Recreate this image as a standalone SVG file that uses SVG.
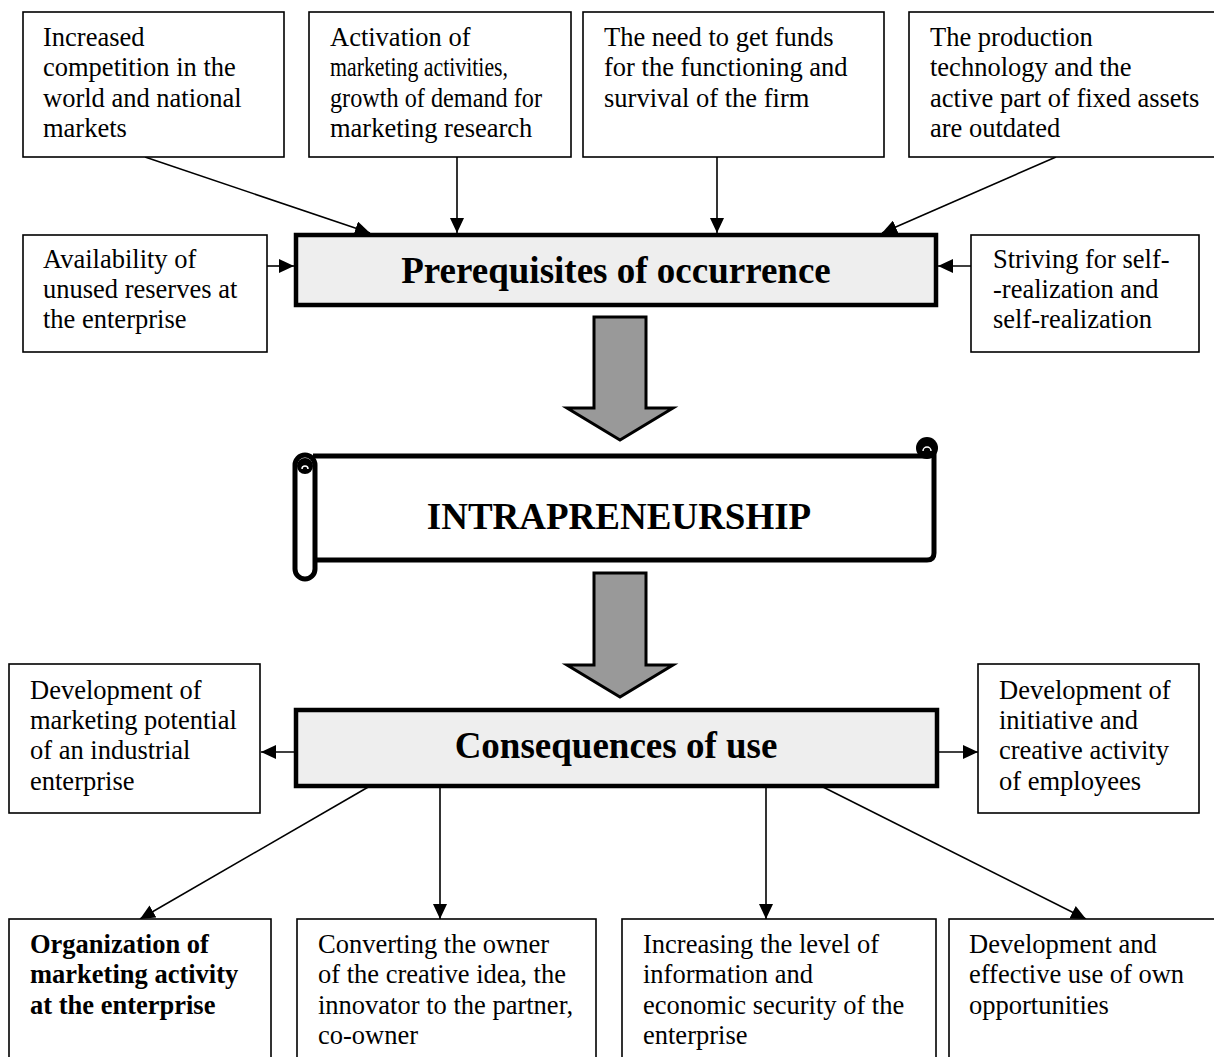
<svg xmlns="http://www.w3.org/2000/svg" width="1214" height="1057" viewBox="0 0 1214 1057">
<defs>
<style>
.box{fill:#fff;stroke:#000;stroke-width:1.6}
.main{fill:#eeeeee;stroke:#000;stroke-width:4.5}
.t{font-family:"Liberation Serif","Times New Roman",serif;font-size:26.5px;fill:#000}
.b{font-weight:bold}
.title{font-family:"Liberation Serif","Times New Roman",serif;font-size:37px;font-weight:bold;fill:#000;text-anchor:middle}
.con{stroke:#000;stroke-width:1.6;fill:none;marker-end:url(#ah)}
.big{fill:#999999;stroke:#000;stroke-width:3;stroke-linejoin:miter}
.scroll{fill:#fff;stroke:#000;stroke-width:5;stroke-linejoin:round}
</style>
<marker id="ah" markerUnits="userSpaceOnUse" markerWidth="15" markerHeight="14" refX="15" refY="7" orient="auto" viewBox="0 0 15 14">
<path d="M0,0 L15,7 L0,14 z" fill="#000"/>
</marker>
</defs>
<rect width="1214" height="1057" fill="#fff"/>

<g id="connectors">
<line class="con" x1="145" y1="157" x2="370" y2="233"/>
<line class="con" x1="457" y1="157" x2="457" y2="233"/>
<line class="con" x1="717" y1="157" x2="717" y2="233"/>
<line class="con" x1="1056" y1="157" x2="882" y2="233"/>
<line class="con" x1="267" y1="266" x2="294" y2="266"/>
<line class="con" x1="971" y1="266" x2="938" y2="266"/>
<line class="con" x1="296" y1="752" x2="261" y2="752"/>
<line class="con" x1="937" y1="752" x2="978" y2="752"/>
<line class="con" x1="370" y1="786" x2="140" y2="919"/>
<line class="con" x1="440" y1="786" x2="440" y2="919"/>
<line class="con" x1="766" y1="786" x2="766" y2="919"/>
<line class="con" x1="821" y1="786" x2="1086" y2="919"/>
</g>

<g id="arrow-down-1">
<path class="big" d="M594,317 H646 V408 H673 L620,440 L567,408 H594 Z"/>
</g>
<g id="arrow-down-2">
<path class="big" d="M594,573 H646 V665 H673 L620,697 L567,665 H594 Z"/>
</g>

<g id="n-competition">
<rect class="box" x="23" y="12" width="261" height="145"/>
<text class="t" x="43" y="46">Increased</text>
<text class="t" x="43" y="76">competition in the</text>
<text class="t" x="43" y="107">world and national</text>
<text class="t" x="43" y="137">markets</text>
</g>
<g id="n-activation">
<rect class="box" x="309" y="12" width="262" height="145"/>
<text class="t" x="330" y="46">Activation of</text>
<text class="t" x="330" y="76" textLength="178" lengthAdjust="spacingAndGlyphs">marketing activities,</text>
<text class="t" x="330" y="107" textLength="212" lengthAdjust="spacingAndGlyphs">growth of demand for</text>
<text class="t" x="330" y="137">marketing research</text>
</g>
<g id="n-funds">
<rect class="box" x="583" y="12" width="301" height="145"/>
<text class="t" x="604" y="46">The need to get funds</text>
<text class="t" x="604" y="76">for the functioning and</text>
<text class="t" x="604" y="107">survival of the firm</text>
</g>
<g id="n-technology">
<rect class="box" x="909" y="12" width="320" height="145"/>
<text class="t" x="930" y="46">The production</text>
<text class="t" x="930" y="76">technology and the</text>
<text class="t" x="930" y="107">active part of fixed assets</text>
<text class="t" x="930" y="137">are outdated</text>
</g>
<g id="n-reserves">
<rect class="box" x="23" y="235" width="244" height="117"/>
<text class="t" x="43" y="268">Availability of</text>
<text class="t" x="43" y="298">unused reserves at</text>
<text class="t" x="43" y="328">the enterprise</text>
</g>
<g id="n-striving">
<rect class="box" x="971" y="235" width="228" height="117"/>
<text class="t" x="993" y="268">Striving for self-</text>
<text class="t" x="993" y="298">-realization and</text>
<text class="t" x="993" y="328">self-realization</text>
</g>
<g id="n-prerequisites">
<rect class="main" x="296" y="235" width="640" height="70"/>
<text class="title" x="616" y="283">Prerequisites of occurrence</text>
</g>

<g id="n-intrapreneurship">
<path class="scroll" d="M313,456 H927 Q934,456 934,450 V553 Q934,560 927,560 H316"/>
<rect class="scroll" x="295" y="455" width="20" height="124" rx="10"/>
<circle cx="305" cy="466" r="8" fill="#000"/>
<path d="M302,469 A3,3 0 1,1 308,469" fill="none" stroke="#fff" stroke-width="1.5"/>
<circle cx="927" cy="448" r="11" fill="#000"/>
<path d="M923,451 A4,4 0 1,1 931,451" fill="none" stroke="#fff" stroke-width="1.5"/>
<text class="title" x="619" y="529">INTRAPRENEURSHIP</text>
</g>

<g id="n-consequences">
<rect class="main" x="296" y="710" width="641" height="76"/>
<text class="title" x="616" y="758">Consequences of use</text>
</g>
<g id="n-marketing-potential">
<rect class="box" x="9" y="664" width="251" height="149"/>
<text class="t" x="30" y="699">Development of</text>
<text class="t" x="30" y="729">marketing potential</text>
<text class="t" x="30" y="759">of an industrial</text>
<text class="t" x="30" y="790">enterprise</text>
</g>
<g id="n-initiative">
<rect class="box" x="978" y="664" width="221" height="149"/>
<text class="t" x="999" y="699">Development of</text>
<text class="t" x="999" y="729">initiative and</text>
<text class="t" x="999" y="759">creative activity</text>
<text class="t" x="999" y="790">of employees</text>
</g>
<g id="n-organization">
<rect class="box" x="9" y="919" width="262" height="150"/>
<text class="t b" x="30" y="953">Organization of</text>
<text class="t b" x="30" y="983">marketing activity</text>
<text class="t b" x="30" y="1014">at the enterprise</text>
</g>
<g id="n-converting">
<rect class="box" x="297" y="919" width="299" height="150"/>
<text class="t" x="318" y="953">Converting the owner</text>
<text class="t" x="318" y="983">of the creative idea, the</text>
<text class="t" x="318" y="1014">innovator to the partner,</text>
<text class="t" x="318" y="1044">co-owner</text>
</g>
<g id="n-security">
<rect class="box" x="622" y="919" width="314" height="150"/>
<text class="t" x="643" y="953">Increasing the level of</text>
<text class="t" x="643" y="983">information and</text>
<text class="t" x="643" y="1014">economic security of the</text>
<text class="t" x="643" y="1044">enterprise</text>
</g>
<g id="n-opportunities">
<rect class="box" x="949" y="919" width="280" height="150"/>
<text class="t" x="969" y="953">Development and</text>
<text class="t" x="969" y="983">effective use of own</text>
<text class="t" x="969" y="1014">opportunities</text>
</g>
</svg>
